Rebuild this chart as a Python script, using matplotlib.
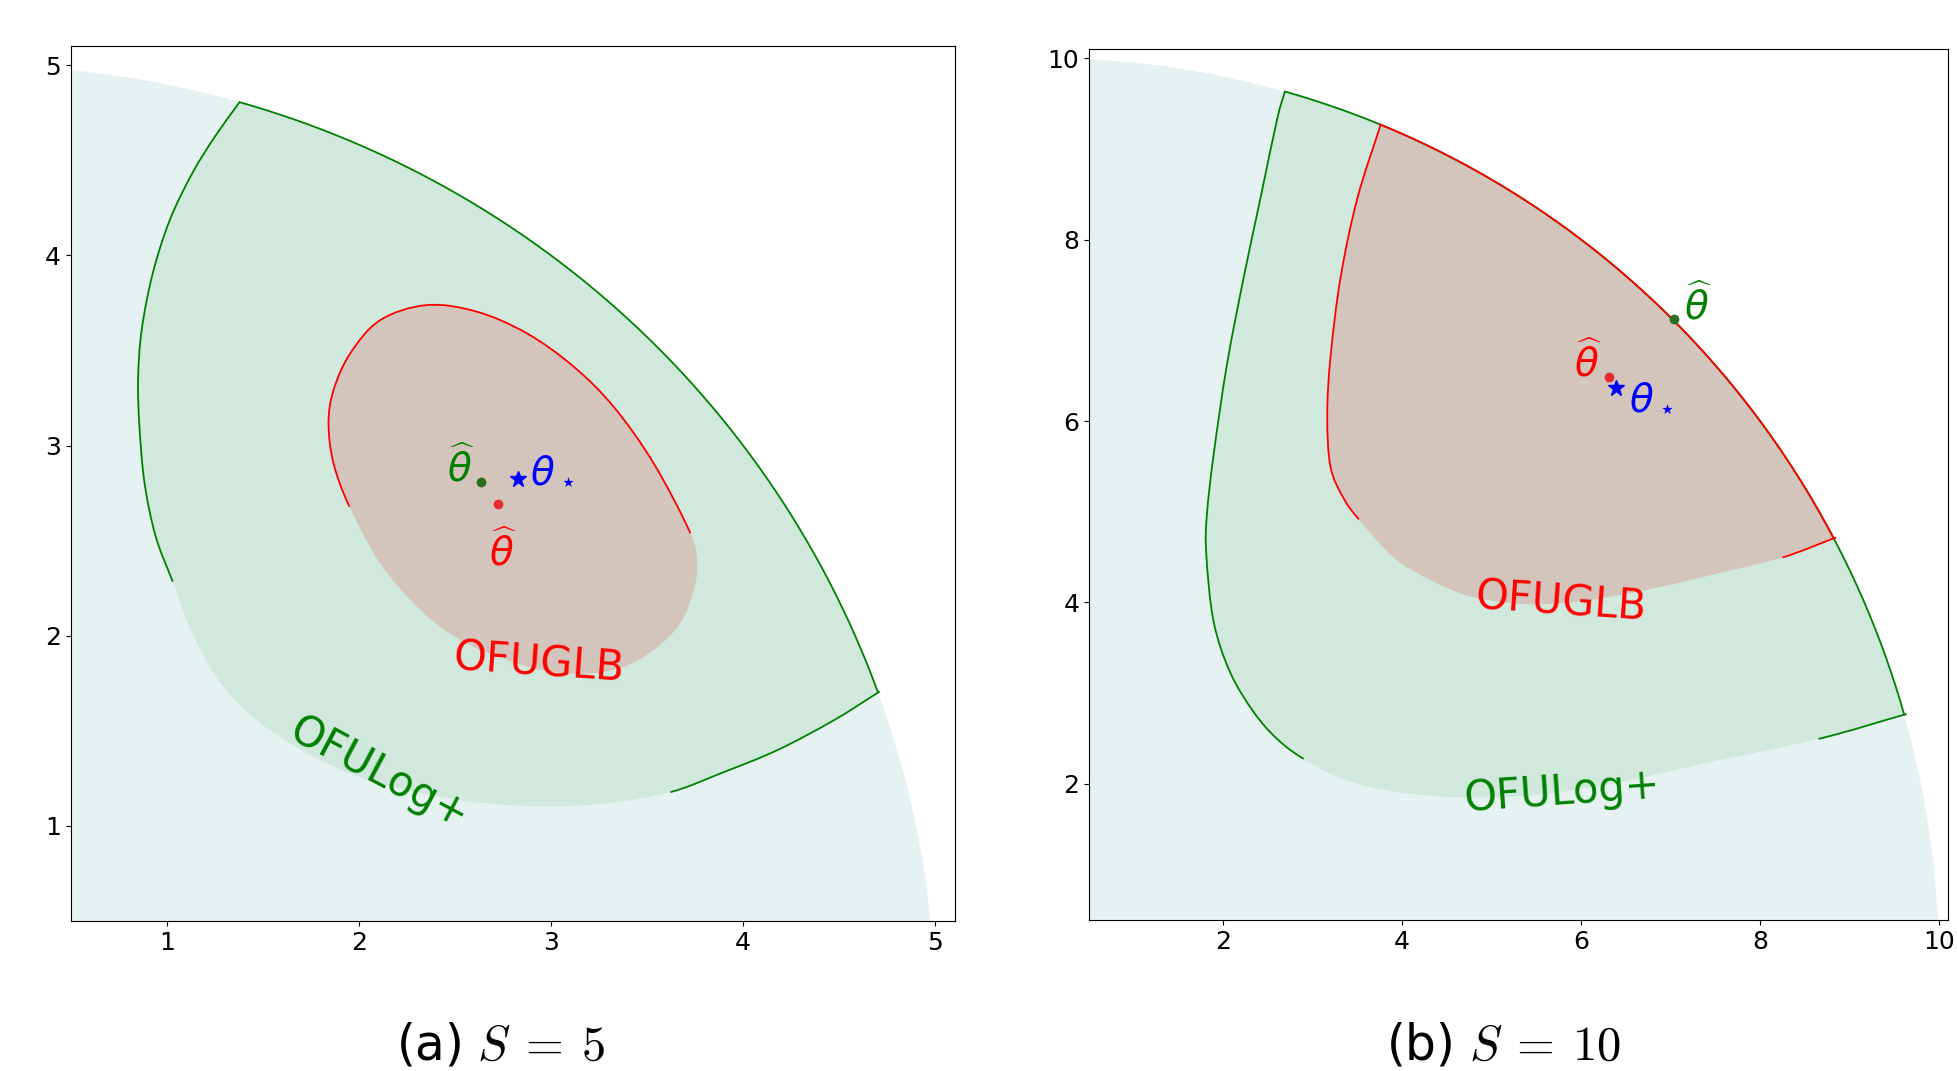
import numpy as np
import matplotlib
matplotlib.use("Agg")
import matplotlib.pyplot as plt
from matplotlib.patches import Circle, PathPatch
from matplotlib.path import Path

# ---------------- data ----------------
S_VALUES = [5, 10]
CAPTIONS = [r"(a)$\ S\:=\:5$", r"(b)$\ S\:=\:10$"]
LIMITS = [(0.5, 5.1), (0.5, 10.1)]
XTICKS = [[1, 2, 3, 4, 5], [2, 4, 6, 8, 10]]
YTICKS = [[1, 2, 3, 4, 5], [2, 4, 6, 8, 10]]

# panel (a): OFULog+ confidence set boundary (inside the ball)
A_GREEN_X = [1.379, 1.252, 1.134, 1.017, 0.928, 0.870, 0.851, 0.858, 0.885, 0.943, 1.031,
             1.13, 1.26, 1.44, 1.68, 1.97, 2.27, 2.56, 2.94, 3.297, 3.621,
             3.886, 4.180, 4.475, 4.710]
A_GREEN_Y = [4.806, 4.627, 4.434, 4.189, 3.909, 3.611, 3.35, 3.10, 2.80, 2.521, 2.285,
             2.02, 1.78, 1.58, 1.41, 1.27, 1.185, 1.13, 1.103, 1.120, 1.178,
             1.278, 1.400, 1.558, 1.707]
A_GREEN_DRAWN = [(0, 10), (20, 24)]
# panel (a): OFUGLB confidence set boundary (closed curve)
A_RED_X = [1.951, 1.868, 1.842, 1.868, 1.955, 2.111, 2.354, 2.615, 2.875, 3.118, 3.326,
           3.534, 3.725, 3.760, 3.743, 3.673, 3.534, 3.36, 3.15, 2.95, 2.771, 2.528,
           2.319, 2.111]
A_RED_Y = [2.679, 2.907, 3.117, 3.292, 3.485, 3.660, 3.739, 3.704, 3.590, 3.415, 3.204,
           2.907, 2.539, 2.381, 2.241, 2.066, 1.926, 1.83, 1.80, 1.82, 1.873, 1.978,
           2.136, 2.381]
A_RED_DRAWN = [(0, 12)]
A_THETA_GREEN = (2.635, 2.810)
A_THETA_RED = (2.724, 2.693)
A_THETA_STAR = (2.828, 2.823)

# panel (b)
B_GREEN_X = [2.690, 2.601, 2.415, 2.228, 2.041, 1.891, 1.817, 1.810, 1.891, 2.078, 2.340,
             2.601, 2.899, 3.329, 3.945, 4.683, 5.422, 6.345, 7.268, 8.652, 9.637]
B_GREEN_Y = [9.636, 9.324, 8.453, 7.582, 6.623, 5.622, 4.969, 4.533, 3.793, 3.227, 2.792,
             2.496, 2.275, 2.055, 1.908, 1.853, 1.871, 2.000, 2.202, 2.496, 2.771]
B_GREEN_DRAWN = [(0, 12), (19, 20)]
B_RED_X = [3.760, 3.498, 3.311, 3.199, 3.162, 3.199, 3.348, 3.516, 3.908, 4.356, 4.805,
           5.42, 6.04, 6.776, 7.576, 8.252, 8.849]
B_RED_Y = [9.269, 8.453, 7.582, 6.711, 6.057, 5.491, 5.143, 4.916, 4.490, 4.229, 4.055,
           3.98, 4.02, 4.148, 4.331, 4.496, 4.717]
B_RED_DRAWN = [(0, 7), (15, 16)]
B_THETA_GREEN = (7.04, 7.12)
B_THETA_RED = (6.31, 6.49)
B_THETA_STAR = (6.387, 6.369)

PANELS = [
    dict(gx=A_GREEN_X, gy=A_GREEN_Y, gd=A_GREEN_DRAWN, g_arc=True,
         rx=A_RED_X, ry=A_RED_Y, rd=A_RED_DRAWN, r_arc=False,
         tg=A_THETA_GREEN, tr=A_THETA_RED, ts=A_THETA_STAR,
         lab_glb=(2.939, 1.856, -4), lab_log=(2.106, 1.278, -28),
         off_g=(-5, 0, "right", "baseline"), off_r=(5, -26, "center", "top"),
         off_s=(12, -2, "left", "baseline")),
    dict(gx=B_GREEN_X, gy=B_GREEN_Y, gd=B_GREEN_DRAWN, g_arc=True,
         rx=B_RED_X, ry=B_RED_Y, rd=B_RED_DRAWN, r_arc=True,
         tg=B_THETA_GREEN, tr=B_THETA_RED, ts=B_THETA_STAR,
         lab_glb=(5.771, 4.001, -4), lab_log=(5.791, 1.909, 4),
         off_g=(10, 0, "left", "baseline"), off_r=(-6, 0, "right", "baseline"),
         off_s=(13, -21, "left", "baseline")),
]

C_BALL = "#e6f2f2"
C_GREEN_FILL = "#d1e9dd"
C_RED_FILL = "#d3c5bc"

fig = plt.figure(figsize=(19.57, 10.71), dpi=100)
rects = [[0.0361, 0.140, 0.4517, 0.8168], [0.5565, 0.141, 0.4389, 0.8132]]
cap_x = [0.256, 0.7685]


def bezier_segments(pts, closed):
    """Catmull-Rom control points for a smooth path through the read points."""
    n = len(pts)
    segs = []
    last = n if closed else n - 1
    for i in range(last):
        p1 = pts[i]
        p2 = pts[(i + 1) % n]
        if closed:
            p0 = pts[(i - 1) % n]
            p3 = pts[(i + 2) % n]
        else:
            p0 = pts[i - 1] if i > 0 else 2 * p1 - p2
            p3 = pts[i + 2] if i + 2 < n else 2 * p2 - p1
        segs.append((p1, p1 + (p2 - p0) / 6.0, p2 - (p3 - p1) / 6.0, p2))
    return segs


def seg_path(segs, extra=None, close=False):
    verts = [segs[0][0]]
    codes = [Path.MOVETO]
    for _, c1, c2, p2 in segs:
        verts += [c1, c2, p2]
        codes += [Path.CURVE4] * 3
    if extra is not None:
        for e in extra:
            verts.append(e)
            codes.append(Path.LINETO)
    if close:
        verts.append(verts[0])
        codes.append(Path.CLOSEPOLY)
    return Path(np.array(verts), codes)


def region(ax, xs, ys, S, fill, color, drawn, arc, z):
    pts = np.column_stack([xs, ys]).astype(float)
    closed = not arc
    segs = bezier_segments(pts, closed)
    extra = None
    if arc:
        big = 1.5
        extra = [pts[-1] * big, np.array([S * big, S * big]), pts[0] * big]
    fpath = seg_path(segs, extra, close=True)
    patch = PathPatch(fpath, facecolor=fill, edgecolor="none", zorder=z)
    ax.add_patch(patch)
    patch.set_clip_path(Circle((0, 0), S, transform=ax.transData))
    for i0, i1 in drawn:
        lp = seg_path(segs[i0:i1])
        ax.add_patch(PathPatch(lp, facecolor="none", edgecolor=color, lw=1.3,
                               zorder=z + 2))
    if arc:
        a0 = np.arctan2(pts[-1, 1], pts[-1, 0])
        a1 = np.arctan2(pts[0, 1], pts[0, 0])
        t = np.linspace(a0, a1, 300)
        ax.plot(S * np.cos(t), S * np.sin(t), color=color, lw=1.3, zorder=z + 2)


for k, (S, p) in enumerate(zip(S_VALUES, PANELS)):
    ax = fig.add_axes(rects[k])
    ax.set_xlim(*LIMITS[k]); ax.set_ylim(*LIMITS[k])
    ax.add_patch(Circle((0, 0), S, facecolor=C_BALL, edgecolor="none", zorder=1))
    region(ax, p["gx"], p["gy"], S, C_GREEN_FILL, "green", p["gd"], p["g_arc"], 2)
    region(ax, p["rx"], p["ry"], S, C_RED_FILL, "red", p["rd"], p["r_arc"], 3)

    ax.plot(*p["tg"], "o", color="#2a6e1e", ms=6, zorder=8)
    ax.plot(*p["tr"], "o", color="#e8282d", ms=6, zorder=8)
    ax.plot(*p["ts"], "*", color="blue", ms=12, zorder=8)
    for pt, off, txt, col in [(p["tg"], p["off_g"], r"$\widehat{\theta}$", "green"),
                              (p["tr"], p["off_r"], r"$\widehat{\theta}$", "red"),
                              (p["ts"], p["off_s"], r"$\theta_\star$", "blue")]:
        ax.annotate(txt, xy=pt, xytext=off[:2], textcoords="offset pixels",
                    ha=off[2], va=off[3], color=col, fontsize=28, zorder=9)
    x, y, r = p["lab_glb"]
    ax.text(x, y, "OFUGLB", color="red", fontsize=30, rotation=r,
            ha="center", va="center", zorder=9)
    x, y, r = p["lab_log"]
    ax.text(x, y, "OFULog+", color="green", fontsize=30, rotation=r,
            ha="center", va="center", zorder=9)

    ax.set_xticks(XTICKS[k]); ax.set_yticks(YTICKS[k])
    ax.tick_params(labelsize=18)
    fig.text(cap_x[k], 0.001, CAPTIONS[k], ha="center", va="bottom",
             fontsize=35, math_fontfamily="cm")

fig.savefig("out.png", dpi=100)
